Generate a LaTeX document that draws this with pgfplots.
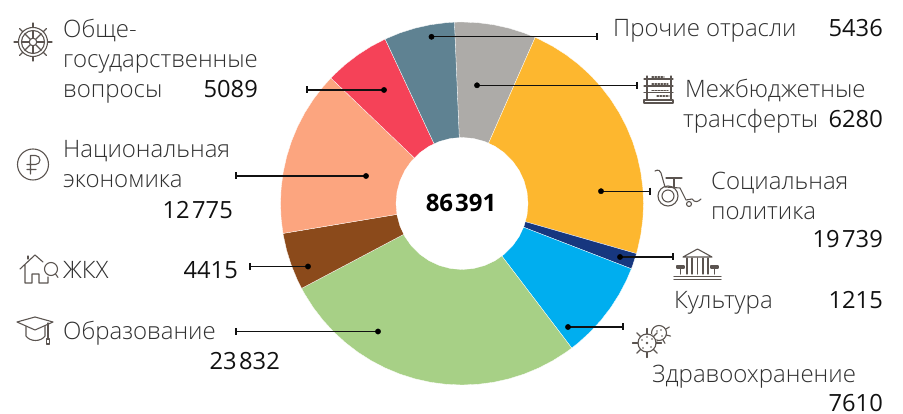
\documentclass[border=0pt]{standalone}
\usepackage{pgfplots}
\pgfplotsset{compat=1.18}
\usepgfplotslibrary{polar}
\usepackage{fontspec}
\setmainfont{Open Sans}
\newfontfamily\lightf{Open Sans Light}
\definecolor{cGrey}{HTML}{ADABA8}
\definecolor{cYellow}{HTML}{FDB72F}
\definecolor{cBlue}{HTML}{17377F}
\definecolor{cCyan}{HTML}{00AEEF}
\definecolor{cGreen}{HTML}{A7D086}
\definecolor{cBrown}{HTML}{8B4A1B}
\definecolor{cSalmon}{HTML}{FCA57F}
\definecolor{cRed}{HTML}{F54258}
\definecolor{cTeal}{HTML}{5F8292}
\definecolor{cIcon}{HTML}{5B5450}
\definecolor{cLabel}{HTML}{303030}
\definecolor{cNum}{HTML}{111111}
\newcommand{\lab}[3]{\node[anchor=base west,inner sep=0,text=cLabel,font=\lightf\fontsize{24bp}{28bp}\selectfont] at (#1,#2) {#3};}
\newcommand{\num}[3]{\node[anchor=base east,inner sep=0,text=cNum,font=\fontsize{23.7bp}{28bp}\selectfont] at (#1,#2) {#3};}
\begin{document}
\begin{tikzpicture}
\useasboundingbox (0,0) rectangle (903bp,414bp);
\begin{axis}[
  at={(0,0)},anchor=south west,
  scale only axis,width=903bp,height=414bp,
  xmin=-462,xmax=441,ymin=-210.5,ymax=203.5,
  axis lines=none,clip=false,
  data cs=polar,
  every axis plot/.append style={line width=0.3bp,draw=white},
]
% Межбюджетные трансферты 6280
\addplot[fill=cGrey] coordinates {(0,0)(92.4,181.5)(90,181.5)(85,181.5)(80,181.5)(75,181.5)(70,181.5)(66.23,181.5)} --cycle;
% Социальная политика 19739
\addplot[fill=cYellow] coordinates {(0,0)(66.23,181.5)(65,181.5)(60,181.5)(55,181.5)(50,181.5)(45,181.5)(40,181.5)(35,181.5)(30,181.5)(25,181.5)(20,181.5)(15,181.5)(10,181.5)(5,181.5)(0,181.5)(-5,181.5)(-10,181.5)(-15,181.5)(-16.03,181.5)} --cycle;
% Культура 1215
\addplot[fill=cBlue] coordinates {(0,0)(-16.03,181.5)(-20,181.5)(-21.09,181.5)} --cycle;
% Здравоохранение 7610
\addplot[fill=cCyan] coordinates {(0,0)(-21.09,181.5)(-25,181.5)(-30,181.5)(-35,181.5)(-40,181.5)(-45,181.5)(-50,181.5)(-52.8,181.5)} --cycle;
% Образование 23832
\addplot[fill=cGreen] coordinates {(0,0)(-52.8,181.5)(-55,181.5)(-60,181.5)(-65,181.5)(-70,181.5)(-75,181.5)(-80,181.5)(-85,181.5)(-90,181.5)(-95,181.5)(-100,181.5)(-105,181.5)(-110,181.5)(-115,181.5)(-120,181.5)(-125,181.5)(-130,181.5)(-135,181.5)(-140,181.5)(-145,181.5)(-150,181.5)(-152.11,181.5)} --cycle;
% ЖКХ 4415
\addplot[fill=cBrown] coordinates {(0,0)(-152.11,181.5)(-155,181.5)(-160,181.5)(-165,181.5)(-170,181.5)(-170.51,181.5)} --cycle;
% Национальная экономика 12775
\addplot[fill=cSalmon] coordinates {(0,0)(-170.51,181.5)(-175,181.5)(-180,181.5)(-185,181.5)(-190,181.5)(-195,181.5)(-200,181.5)(-205,181.5)(-210,181.5)(-215,181.5)(-220,181.5)(-223.74,181.5)} --cycle;
% Общегосударственные вопросы 5089
\addplot[fill=cRed] coordinates {(0,0)(-223.74,181.5)(-225,181.5)(-230,181.5)(-235,181.5)(-240,181.5)(-244.95,181.5)} --cycle;
% Прочие отрасли 5436
\addplot[fill=cTeal] coordinates {(0,0)(-244.95,181.5)(-250,181.5)(-255,181.5)(-260,181.5)(-265,181.5)(-267.6,181.5)} --cycle;
% hole
\addplot[fill=white,draw=white] coordinates {(0,66)(10,66)(20,66)(30,66)(40,66)(50,66)(60,66)(70,66)(80,66)(90,66)(100,66)(110,66)(120,66)(130,66)(140,66)(150,66)(160,66)(170,66)(180,66)(190,66)(200,66)(210,66)(220,66)(230,66)(240,66)(250,66)(260,66)(270,66)(280,66)(290,66)(300,66)(310,66)(320,66)(330,66)(340,66)(350,66)} --cycle;
% leaders
\addplot[draw=cNum,line width=1.2bp,mark=none,data cs=cart] coordinates {(-30.5,166.7)(135,166.7)};
\addplot[draw=cNum,line width=1.2bp,mark=none,data cs=cart] coordinates {(15,118.2)(175,118.2)};
\addplot[draw=cNum,line width=1.2bp,mark=none,data cs=cart] coordinates {(139,12.3)(188,12.3)};
\addplot[draw=cNum,line width=1.2bp,mark=none,data cs=cart] coordinates {(158,-53.5)(211,-53.5)};
\addplot[draw=cNum,line width=1.2bp,mark=none,data cs=cart] coordinates {(106,-123.5)(161,-123.5)};
\addplot[draw=cNum,line width=1.2bp,mark=none,data cs=cart] coordinates {(-84,-128)(-226,-128)};
\addplot[draw=cNum,line width=1.2bp,mark=none,data cs=cart] coordinates {(-154,-63)(-212,-63)};
\addplot[draw=cNum,line width=1.2bp,mark=none,data cs=cart] coordinates {(-96,27.5)(-226,27.5)};
\addplot[draw=cNum,line width=1.2bp,mark=none,data cs=cart] coordinates {(-78,113.5)(-155,113.5)};
% dots
\addplot[only marks,mark=*,mark size=2.7bp,draw=black,fill=black,data cs=cart,mark options={fill=black,draw=none}] coordinates {(-30.5,166.7)(15,118.2)(139,12.3)(158,-53.5)(106,-123.5)(-84,-128)(-154,-63)(-96,27.5)(-78,113.5)};
% end ticks
\addplot[only marks,mark=|,mark size=3.5bp,data cs=cart,mark options={draw=cNum,line width=1.2bp}] coordinates {(135,166.7)(175,118.2)(188,12.3)(211,-53.5)(161,-123.5)(-226,-128)(-212,-63)(-226,27.5)(-155,113.5)};
\end{axis}
\begin{scope}[x=1bp,y=-1bp,shift={(0,414bp)}]
% labels
\lab{63}{38}{Обще-}
\lab{63}{68}{государственные}
\lab{63}{98}{вопросы}
\num{258}{98}{5089}
\lab{63}{158}{Национальная}
\lab{63}{188}{экономика}
\num{233}{219}{12\kern0.1em 775}
\lab{63}{279}{ЖКХ}
\num{238}{279}{4415}
\lab{63}{340}{Образование}
\num{280}{370}{23\kern0.1em 832}
\lab{613}{37}{Прочие отрасли}
\num{883}{37}{5436}
\lab{685}{98}{Межбюджетные}
\lab{683}{128}{трансферты}
\num{883}{128}{6280}
\lab{711}{190}{Социальная}
\lab{711}{220}{политика}
\num{883}{248}{19\kern0.1em 739}
\lab{674}{309}{Культура}
\num{883}{309}{1215}
\lab{652}{383}{Здравоохранение}
\num{883}{411.5}{7610}
\node[anchor=base,inner sep=0,text=black,font=\bfseries\fontsize{24bp}{28bp}\selectfont] at (461,212) {86\kern0.08em 391};
% icons
\begin{scope}[draw=cIcon,line width=1.1bp,line cap=round,line join=round]
% helm
\draw (33,42) circle (14.5) (33,42) circle (11.5) (33,42) circle (3.8);
\foreach \a in {0,45,...,315}{\draw (33,42)++(\a:3.8) -- ++(\a:7.7) (33,42)++(\a:14.5) -- ++(\a:4.5);}
% ruble
\draw (33,164.5) circle (15.5);
\draw (30.5,174) -- (30.5,155.5) -- (35.5,155.5) arc (-90:90:4.5) -- (27,164.5) (27,169.5) -- (36,169.5);
% house
\draw (20,269) -- (35,255) -- (43,262) (25,265) -- (25,283) -- (32,283) -- (32,274) -- (39,274) -- (39,283) -- (48,283) -- (48,277);
\draw (28,256) -- (28,259);
\draw (51,269) circle (6.5) (55.5,274) -- (58,277.5);
% cap
\draw (17,322) -- (35,317) -- (53,322) -- (35,330) -- cycle;
\draw (26,326.5) -- (26,336) .. controls (30,342) and (41,342) .. (45,336) -- (45,326.5);
\draw (48,323) -- (48,338) (46.5,339) rectangle (49.5,344);
% abacus
\draw (647,76) -- (647,100) (671,76) -- (671,100);
\draw (644,100) rectangle (673,103);
\draw (644,79) -- (673,79) (644,86) -- (673,86) (644,92.5) -- (673,92.5);
\draw[line width=1.2bp,dash pattern=on 1.5 off 1.5] (652,77) -- (664,77) (652,84) -- (668,84) (652,90.5) -- (668,90.5) (657,96) -- (669,96);
% wheelchair
\draw (655,171) .. controls (658,169) and (661,171) .. (661,173) -- (665,187) -- (680,188) -- (686,200) -- (692,199) .. controls (695,203) and (698,202) .. (701,199);
\draw (666,178) -- (682,178) (674,178) -- (674,187);
\draw (668,196) circle (10) (668,196) circle (6);
\draw (689,204) circle (2.5);
% bank
\draw (683,257) -- (697.5,249) -- (712,257) -- cycle;
\draw (687,258) -- (687,274) (692,258) -- (692,274) (697.5,258) -- (697.5,274) (703,258) -- (703,274) (708,258) -- (708,274);
\draw (677,266) -- (684,266) -- (684,268) -- (677,268) -- cycle (680.5,268) -- (680.5,274);
\draw (711,266) -- (718,266) -- (718,268) -- (711,268) -- cycle (714.5,268) -- (714.5,274);
\draw (674,276.5) -- (721,276.5) (674,279.5) -- (721,279.5);
% virus
\draw (659,333) circle (7.5);
\foreach \a in {-30,15,60,105,150}{\draw (659,333)++(\a:7.5) -- ++(\a:4.5);}
\fill[white] (647,343) circle (10);
\draw (647,343) circle (9);
\foreach \a in {0,45,...,315}{\draw (647,343)++(\a:9) -- ++(\a:5.5);}
\fill[cIcon] (647,343) circle (1.3) (642,340) circle (.8) (652,339) circle (.8) (643,348) circle (.8) (651,347) circle (.8) (647,337) circle (.8) (657,331) circle (.8) (662,336) circle (.8) (661,330) circle (.8);
\end{scope}
\end{scope}
\end{tikzpicture}
\end{document}
